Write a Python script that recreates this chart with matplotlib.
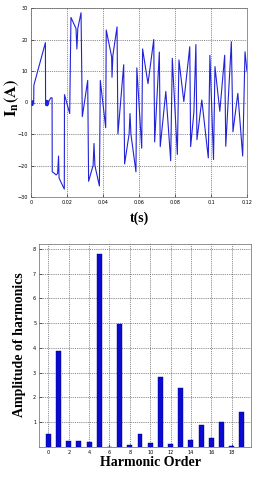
import matplotlib
matplotlib.use("Agg")
import matplotlib.pyplot as plt
import numpy as np

# ---- data: neutral current waveform ----
t_ms = [0.0, 0.3, 0.6, 0.9, 1.2, 1.5, 1.6, 8.0, 8.1, 8.4, 8.7, 9.0, 9.3, 9.6, 10.0, 11.0, 11.7, 11.8,
        13.0, 14.0, 14.8, 15.3, 15.6, 18.5, 18.6, 21.5, 22.2, 25.0, 25.5, 26.0,
        27.8, 28.5, 31.5, 32.0, 34.5, 35.0, 35.5, 38.0, 38.5, 41.5, 41.8, 44.8,
        45.0, 45.5, 47.8, 48.3, 51.5, 52.0, 54.5, 55.0, 55.5, 58.3, 58.8, 61.5,
        62.0, 65.0, 68.2, 68.7, 71.3, 71.8, 74.9, 77.6, 78.5, 81.3, 82.2, 84.9,
        88.2, 88.7, 90.5, 91.6, 92.2, 94.9, 98.5, 99.4, 101.4, 102.2, 104.9,
        107.6, 108.2, 111.3, 112.2, 114.9, 117.6, 118.9, 120.0]
i_vals = [0.2, -0.9, 0.6, -1.0, 0.4, -0.5, 5.5, 19.0, 0.0, -1.0, 0.7, -1.1, 0.6, -0.8, 0.5, 1.5, 1.5, -22.0,
          -22.5, -23.0, -22.5, -17.0, -24.0, -27.5, 2.5, -3.5, 27.0, 23.5, 17.0, 23.5,
          28.5, -4.5, 7.0, -25.0, -20.0, -13.0, -20.0, -26.5, 7.0, -8.0, 23.0, 14.5,
          8.0, 15.0, 24.0, -10.0, 12.0, -19.5, -10.0, -3.5, -10.0, -22.0, 11.0, -14.5,
          17.0, 6.0, 20.0, -12.5, 16.0, -14.0, 3.5, -18.5, 14.0, -16.5, 13.5, 0.3,
          17.7, -14.0, -3.0, 18.4, -11.8, 0.8, -17.6, 15.0, -18.1, 11.4, -2.8,
          15.0, -13.9, 19.3, -9.3, 2.9, -17.0, 16.1, 9.8]

# ---- data: harmonic spectrum ----
orders = list(range(20))
amplitudes = [0.52, 3.88, 0.25, 0.24, 0.22, 7.8, 0.0, 4.97, 0.1, 0.52,
              0.15, 2.82, 0.14, 2.37, 0.27, 0.88, 0.35, 1.03, 0.06, 1.4]

top_xticks = [0, 0.02, 0.04, 0.06, 0.08, 0.1, 0.12]
top_xlabels = ["0", "0.02", "0.04", "0.06", "0.08", "0.1", "0.12"]
top_yticks = [-30, -20, -10, 0, 10, 20, 30]
bot_xticks = [0, 2, 4, 6, 8, 10, 12, 14, 16, 18]
bot_yticks = [1, 2, 3, 4, 5, 6, 7, 8]

plt.rcParams['mathtext.fontset'] = 'stix'
serif = 'Liberation Serif'

fig = plt.figure(figsize=(2.55, 4.8), dpi=100)
fig.patch.set_facecolor('white')

# ---- top: waveform ----
ax1 = fig.add_axes([31/255, 1-197/480, 216/255, 189/480])
t = np.array(t_ms) / 1000.0
ax1.plot(t, i_vals, color='#2222d8', lw=0.8)
ax1.set_xlim(0, 0.12)
ax1.set_ylim(-30, 30)
ax1.set_xticks(top_xticks)
ax1.set_xticklabels(top_xlabels)
ax1.set_yticks(top_yticks)
ax1.grid(True, color='#444444', ls=(0, (1.2, 1.5)), lw=0.5)
ax1.tick_params(direction='in', length=2, width=0.4, labelsize=3.5, pad=2)
for s in ax1.spines.values():
    s.set_linewidth(0.5)
    s.set_color('#666666')
fig.text(139/255, 1-218/480, 't(s)', ha='center', va='center',
         fontsize=10, fontweight='bold', family=serif)
fig.text(12/255, 1-98/480, r'$\mathbf{I_n(A)}$', ha='center', va='center',
         rotation=90, fontsize=12)

# ---- bottom: harmonics ----
ax2 = fig.add_axes([39/255, 1-447/480, 212/255, 203/480])
ax2.bar(orders, amplitudes, width=0.48, color='#0a0ad2', edgecolor='#00007a',
        lw=0.3, zorder=3)
ax2.set_xlim(-0.92, 19.9)
ax2.set_ylim(0, 8.2)
ax2.set_xticks(bot_xticks)
ax2.set_yticks(bot_yticks)
ax2.grid(True, color='#444444', ls=(0, (1.2, 1.5)), lw=0.5, zorder=0)
ax2.tick_params(direction='in', length=2, width=0.4, labelsize=3.5, pad=2)
for s in ax2.spines.values():
    s.set_linewidth(0.5)
    s.set_color('#666666')
fig.text(151/255, 1-463/480, 'Harmonic Order', ha='center', va='center',
         fontsize=10, fontweight='bold', family=serif)
fig.text(20/255, 1-345/480, 'Amplitude of harmonics', ha='center', va='center',
         rotation=90, fontsize=10, fontweight='bold', family=serif)

fig.savefig('out.png', dpi=100, facecolor='white')
